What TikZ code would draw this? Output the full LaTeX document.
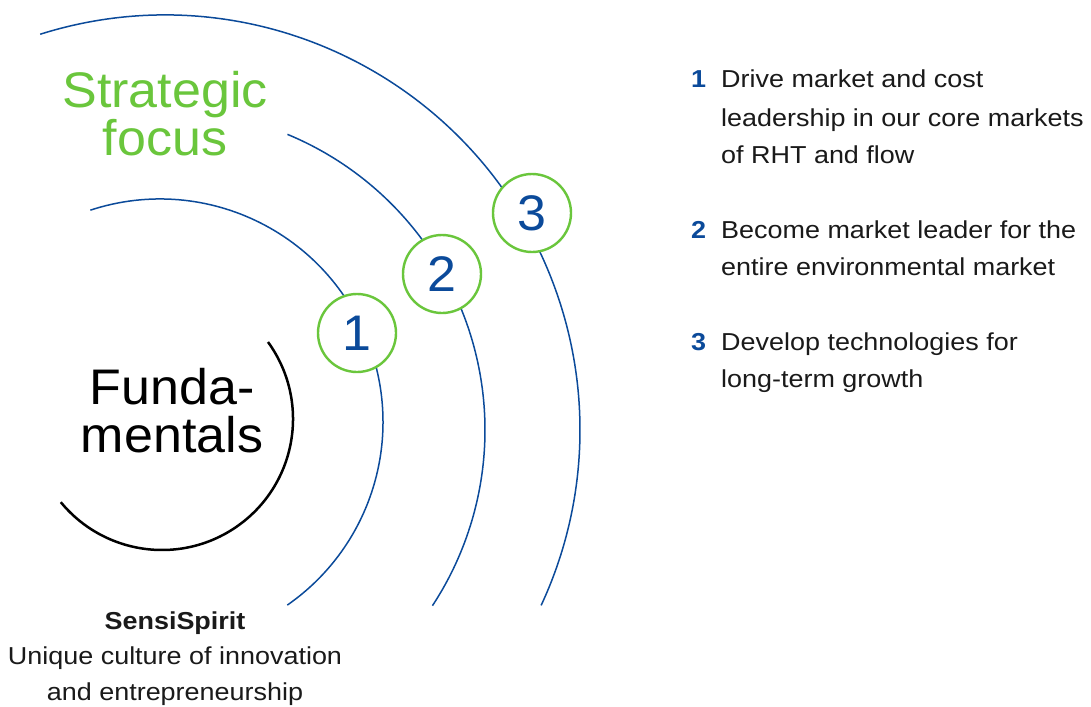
\documentclass[tikz,border=0pt]{standalone}
\usepackage{fontspec}
\setmainfont{Liberation Sans}
\newfontfamily\bodyfont[FakeStretch=1.1]{Liberation Sans}
\newfontfamily\headfont[FakeStretch=1.04]{Liberation Sans}
\definecolor{sblue}{RGB}{11,74,154}
\definecolor{sgreen}{RGB}{106,198,60}
\definecolor{stext}{RGB}{26,26,26}
\tikzset{
  arcline/.style={draw=sblue, line width=1.5pt},
  fundline/.style={draw=black, line width=2.5pt},
  numcircle/.style={circle, draw=sgreen, fill=white, line width=2.4pt, minimum size=78pt, inner sep=0pt, text=sblue, font=\headfont\fontsize{50}{50}\selectfont},
  heading/.style={anchor=base, inner sep=0pt, font=\headfont\fontsize{50}{50}\selectfont},
  body/.style={anchor=base, inner sep=0pt, text=stext, font=\bodyfont\fontsize{24.5}{30}\selectfont},
  bodyleft/.style={body, anchor=base west},
  listnum/.style={anchor=base west, inner sep=0pt, text=sblue, font=\bodyfont\bfseries\fontsize{24.5}{30}\selectfont},
}
\begin{document}
\begin{tikzpicture}[x=1pt,y=1pt]
\fill[white] (0,0) rectangle (1091,-706);
\useasboundingbox (0,0) rectangle (1091,-706);
% centres
\coordinate (c0) at (162,-419);
\coordinate (c1) at (160,-422);
\coordinate (c23) at (165,-430);
% arcs
\draw[fundline] ([shift={(36:131)}]c0) arc[start angle=36, end angle=-140.6, radius=131];
\draw[arcline] ([shift={(108.2:223)}]c1) arc[start angle=108.2, end angle=-55.2, radius=223];
\draw[arcline] ([shift={(67.5:320)}]c23) arc[start angle=67.5, end angle=-33.3, radius=320];
\draw[arcline] ([shift={(107.5:415)}]c23) arc[start angle=107.5, end angle=-25.0, radius=415];
% numbered circles
\node[numcircle] (n1) at (357,-333) {1};
\node[numcircle] (n2) at (442,-274) {2};
\node[numcircle] (n3) at (532,-213) {3};
% headings
\node[heading, text=sgreen] (sf1) at (165,-108) {Strategic};
\node[heading, text=sgreen] (sf2) at (165,-155) {focus};
\node[heading, text=black] (fu1) at (172,-404) {Funda-};
\node[heading, text=black] (fu2) at (172,-452) {mentals};
% bottom text
\node[body, font=\bodyfont\bfseries\fontsize{24.5}{30}\selectfont] (ss) at (175,-629) {SensiSpirit};
\node[body] (ss2) at (175,-664) {Unique culture of innovation};
\node[body] (ss3) at (175,-700) {and entrepreneurship};
% list
\node[listnum] (l1) at (691,-88) {1};
\node[bodyleft] (l1a) at (721,-88) {Drive market and cost};
\node[bodyleft] (l1b) at (721,-126) {leadership in our core markets};
\node[bodyleft] (l1c) at (721,-163) {of RHT and flow};
\node[listnum] (l2) at (691,-238) {2};
\node[bodyleft] (l2a) at (721,-238) {Become market leader for the};
\node[bodyleft] (l2b) at (721,-275) {entire environmental market};
\node[listnum] (l3) at (691,-350) {3};
\node[bodyleft] (l3a) at (721,-350) {Develop technologies for};
\node[bodyleft] (l3b) at (721,-387) {long-term growth};
\end{tikzpicture}
\end{document}
